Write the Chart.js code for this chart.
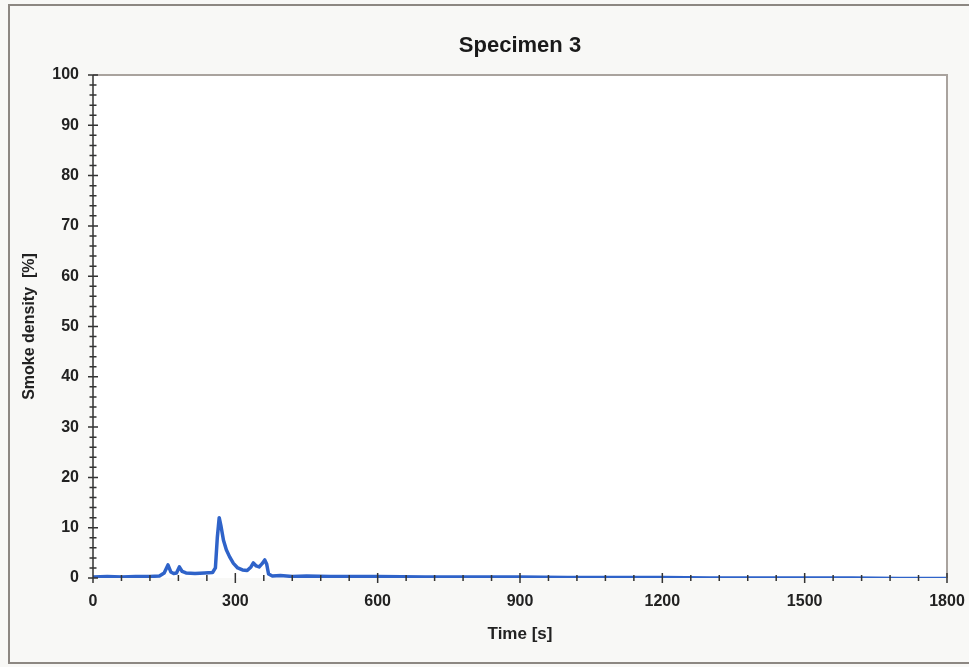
<!DOCTYPE html>
<html>
<head>
<meta charset="utf-8">
<script src="https://cdn.jsdelivr.net/npm/chart.js@4"></script>
<style>
  html, body { margin: 0; padding: 0; background: #f8f8f6; }
  #wrap { width: 969px; height: 667px; position: relative; }
</style>
</head>
<body>
<div id="wrap"><canvas id="smokeChart" width="969" height="667"></canvas></div>
<script>
// smoke density readings
const timeSec = [0, 30, 60, 90, 120, 140, 150, 158, 164, 170, 176, 182, 188, 196, 215, 235, 252, 258, 262, 266,
  270, 275, 281, 288, 296, 305, 315, 325, 333, 338, 344, 350, 356, 362, 366, 370, 378, 395, 420, 450,
  500, 600, 700, 800, 900, 1000, 1100, 1200, 1300, 1400, 1500, 1600, 1700, 1800];
const density = [0.2, 0.3, 0.2, 0.3, 0.3, 0.4, 1.0, 2.6, 1.2, 0.9, 1.0, 2.2, 1.3, 1.0, 0.9, 1.0, 1.1, 2.0, 8.0, 12.0,
  10.2, 7.5, 5.6, 4.2, 2.9, 2.0, 1.6, 1.5, 2.2, 3.0, 2.4, 2.2, 2.8, 3.6, 2.8, 0.8, 0.4, 0.5, 0.3, 0.4,
  0.3, 0.3, 0.2, 0.2, 0.2, 0.1, 0.1, 0.1, 0.0, 0.0, 0.0, 0.0, -0.1, -0.1];
const xTicks = [0, 300, 600, 900, 1200, 1500, 1800];
const yTicks = [0, 10, 20, 30, 40, 50, 60, 70, 80, 90, 100];
const chartTitle = 'Specimen 3';

const points = timeSec.map((t, i) => ({x: t, y: density[i]}));

// frame, plot background, title over the plot and ticks crossing the axes
const framePlugin = {
  id: 'frame',
  beforeDraw(chart) {
    const c = chart.ctx;
    const a = chart.chartArea;
    c.save();
    c.strokeStyle = '#8c8782';
    c.lineWidth = 2;
    c.strokeRect(9, 5, 975, 658);
    c.fillStyle = '#ffffff';
    c.fillRect(a.left, a.top, a.right - a.left, a.bottom - a.top);
    c.fillStyle = '#1a1a1a';
    c.font = 'bold 22px "Liberation Sans"';
    c.textAlign = 'center';
    c.textBaseline = 'middle';
    c.fillText(chartTitle, (a.left + a.right) / 2, 46);
    c.restore();
  },
  afterDatasetsDraw(chart) {
    const c = chart.ctx;
    const a = chart.chartArea;
    const xs = chart.scales.x, ys = chart.scales.y;
    c.save();
    c.strokeStyle = '#a9a39e';
    c.lineWidth = 2;
    c.beginPath();
    c.moveTo(a.left, a.top); c.lineTo(a.right, a.top); c.lineTo(a.right, a.bottom);
    c.stroke();
    c.strokeStyle = '#333';
    c.lineWidth = 1.5;
    c.beginPath();
    c.moveTo(a.left, a.top); c.lineTo(a.left, a.bottom);
    for (let v = 0; v <= 100; v += 2) {
      const py = ys.getPixelForValue(v);
      const len = v % 10 === 0 ? 5 : 3.5;
      c.moveTo(a.left - len, py); c.lineTo(a.left + len, py);
    }
    for (let v = 0; v <= 1800; v += 60) {
      const px = xs.getPixelForValue(v);
      const len = v % 300 === 0 ? 5 : 3;
      c.moveTo(px, a.bottom - len); c.lineTo(px, a.bottom + len);
    }
    c.stroke();
    c.restore();
  }
};

const ctx = document.getElementById('smokeChart').getContext('2d');
new Chart(ctx, {
  type: 'line',
  data: {
    datasets: [{
      data: points,
      borderColor: '#2f63c9',
      borderWidth: 3.5,
      borderJoinStyle: 'round',
      pointRadius: 0,
      tension: 0,
      fill: false
    }]
  },
  options: {
    responsive: false,
    animation: false,
    layout: { padding: { left: 18, right: 22, top: 75, bottom: 0 } },
    plugins: {
      legend: { display: false },
      tooltip: { enabled: false },
      title: { display: false }
    },
    scales: {
      x: {
        type: 'linear',
        min: 0, max: 1800,
        afterBuildTicks(scale) { scale.ticks = xTicks.map(v => ({value: v})); },
        afterFit(scale) {
          scale.height = 89;
          scale.paddingLeft = 0;
          scale.paddingRight = 0;
        },
        grid: { drawOnChartArea: false, drawTicks: false },
        border: { display: false },
        ticks: {
          padding: 14,
          maxRotation: 0,
          color: '#222',
          font: { family: 'Liberation Sans', size: 16, weight: 'bold' },
          callback: v => String(v)
        },
        title: {
          display: true,
          text: 'Time [s]',
          color: '#222',
          font: { family: 'Liberation Sans', size: 17, weight: 'bold' },
          padding: { top: 0, bottom: 22 }
        }
      },
      y: {
        min: 0, max: 100,
        afterBuildTicks(scale) { scale.ticks = yTicks.map(v => ({value: v})); },
        afterFit(scale) { scale.width = 75; },
        grid: { drawOnChartArea: false, drawTicks: false },
        border: { display: false },
        ticks: {
          padding: 14,
          color: '#222',
          font: { family: 'Liberation Sans', size: 16, weight: 'bold' },
          callback: v => String(v)
        },
        title: {
          display: true,
          text: 'Smoke density  [%]',
          color: '#222',
          font: { family: 'Liberation Sans', size: 16, weight: 'bold' },
          padding: { top: 2, bottom: 0 }
        }
      }
    }
  },
  plugins: [framePlugin]
});
</script>
</body>
</html>
